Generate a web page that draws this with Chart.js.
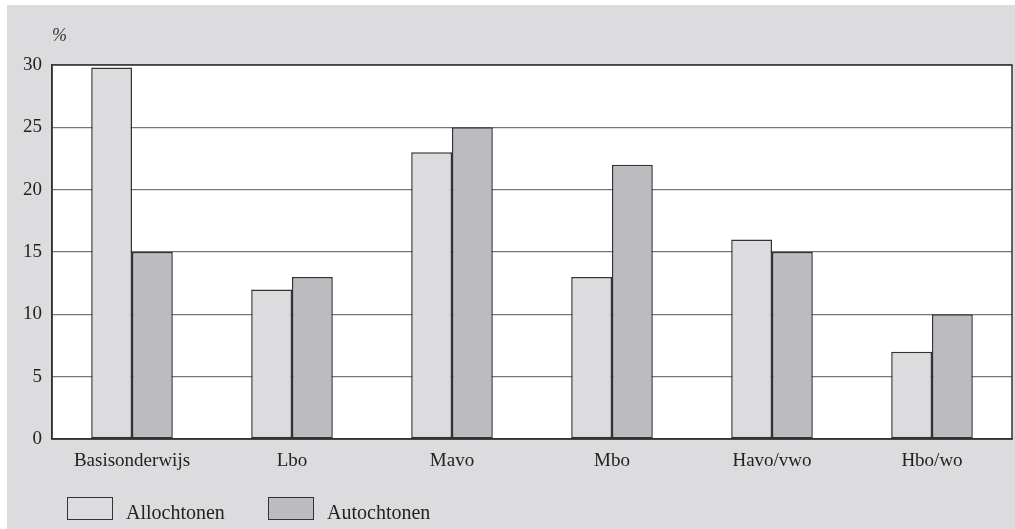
<!DOCTYPE html>
<html>
<head>
<meta charset="utf-8">
<script src="https://cdn.jsdelivr.net/npm/chart.js@4"></script>
<style>
  html, body { margin:0; padding:0; background:#fff; }
  body { width:1015px; height:529px; position:relative; overflow:hidden; font-family:"Liberation Serif", "DejaVu Serif", serif; }
  #panel { position:absolute; left:7px; top:5px; width:1008px; height:524px; background:#dcdcde; }
  #wrap { position:absolute; left:0; top:0; width:1008px; height:524px; }
  #pct { position:absolute; left:45px; top:20px; font-size:18px; font-style:italic; color:#333; }
  .leg { position:absolute; top:492px; font-size:20px; color:#222; }
  .leg i { position:absolute; left:0; top:0; width:44px; height:21px; border:1.5px solid #333; }
  .leg span { position:absolute; left:59px; top:4px; white-space:nowrap; }
</style>
</head>
<body>
<div id="panel">
  <div id="wrap"><canvas id="c"></canvas></div>
  <div id="pct">%</div>
  <div class="leg" style="left:60px"><i style="background:#dcdcde"></i><span>Allochtonen</span></div>
  <div class="leg" style="left:261px"><i style="background:#bcbcc0"></i><span>Autochtonen</span></div>
</div>
<script>
/* Onderwijsniveau: allochtonen vs autochtonen (%) */
const categories = ['Basisonderwijs','Lbo','Mavo','Mbo','Havo/vwo','Hbo/wo'];
const allochtonen = [29.8, 12, 23, 13, 16, 7];
const autochtonen = [15, 13, 25, 22, 15, 10];
const yTicks = [0, 5, 10, 15, 20, 25, 30];

const serif = { family:'"Liberation Serif", "DejaVu Serif", serif', size:19 };

// white plot area + outline round it
const frame = {
  id:'frame',
  beforeDraw(chart) {
    const a = chart.chartArea, ctx = chart.ctx;
    ctx.save();
    ctx.fillStyle = '#fff';
    ctx.fillRect(a.left, a.top, a.right - a.left, a.bottom - a.top);
    ctx.restore();
  },
  afterDraw(chart) {
    const a = chart.chartArea, ctx = chart.ctx;
    ctx.save();
    ctx.strokeStyle = '#333';
    ctx.lineWidth = 1.5;
    ctx.strokeRect(a.left, a.top, a.right - a.left, a.bottom - a.top);
    ctx.restore();
  }
};

new Chart(document.getElementById('c'), {
  type:'bar',
  data:{
    labels:categories,
    datasets:[
      { label:'Allochtonen', data:allochtonen, backgroundColor:'#dcdcde', borderColor:'#333', borderWidth:1.5, borderSkipped:false },
      { label:'Autochtonen', data:autochtonen, backgroundColor:'#bcbcc0', borderColor:'#333', borderWidth:1.5, borderSkipped:false }
    ]
  },
  options:{
    responsive:true, maintainAspectRatio:false, animation:false,
    categoryPercentage:0.51, barPercentage:1,
    layout:{ padding:{ top:60, right:3, bottom:50, left:0 } },
    plugins:{ legend:{ display:false }, tooltip:{ enabled:false } },
    scales:{
      x:{
        grid:{ display:false },
        border:{ color:'#333', width:1.5 },
        ticks:{ font:serif, color:'#222', padding:3, maxRotation:0 },
        afterFit(s) { s.height = 40; }
      },
      y:{
        min:0, max:30,
        afterBuildTicks(s) { s.ticks = yTicks.map(v => ({ value:v })); },
        grid:{ color:'#777', lineWidth:1.3, drawTicks:false },
        border:{ color:'#333', width:1.5 },
        ticks:{ font:serif, color:'#222', padding:10 },
        afterFit(s) { s.width = 45; }
      }
    }
  },
  plugins:[frame]
});
</script>
</body>
</html>
